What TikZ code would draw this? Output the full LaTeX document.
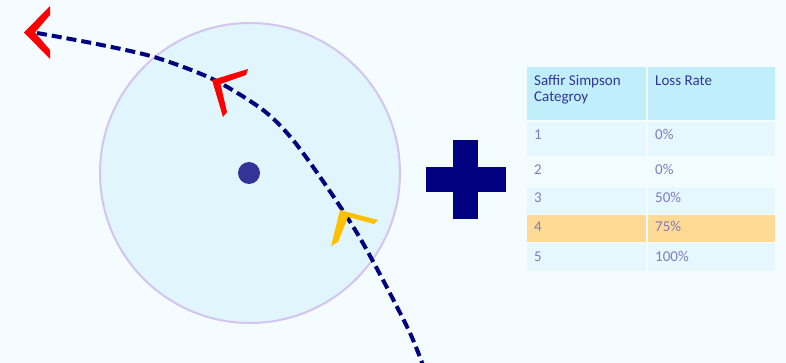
\documentclass[tikz,border=0pt]{standalone}
\usepackage{fontspec}
\setmainfont{Carlito}
\definecolor{bgc}{HTML}{F4FCFF}
\definecolor{circfill}{HTML}{E1F6FC}
\definecolor{circline}{HTML}{D4C4F0}
\definecolor{dotc}{HTML}{333399}
\definecolor{navyc}{HTML}{000080}
\definecolor{redc}{HTML}{FF0000}
\definecolor{yelc}{HTML}{FFC000}
\definecolor{hdrc}{HTML}{C1EEFB}
\definecolor{rowa}{HTML}{E6F8FD}
\definecolor{rowb}{HTML}{F2FCFF}
\definecolor{rowo}{HTML}{FFDA94}
\definecolor{hdrtxt}{HTML}{333399}
\definecolor{bodytxt}{HTML}{7C7CC0}
\begin{document}
\begin{tikzpicture}[x=1pt,y=-1pt,
  hdrtext/.style={anchor=base west,inner sep=0pt,font=\fontsize{15}{17}\selectfont,text=hdrtxt},
  celltext/.style={anchor=base west,inner sep=0pt,font=\fontsize{15}{17}\selectfont,text=bodytxt},
  track/.style={navyc,line width=4pt,dash pattern=on 10pt off 5pt}]
\fill[bgc] (0,0) rectangle (786,363);
\useasboundingbox (0,0) rectangle (786,363);
% storm circle
\node[circle,draw=circline,line width=2pt,fill=circfill,minimum size=300pt,inner sep=0pt] (storm) at (250,173) {};
\node[circle,fill=dotc,minimum size=22pt,inner sep=0pt] (eye) at (249,173) {};
% track
\draw[track] plot[smooth,tension=0.5] coordinates {(37,33) (96.7,44) (155,57.3) (213,79.3) (263,110) (293,140) (327,187) (357,233) (383,280) (410,333) (424,368)};
% wind marks
\fill[redc] (24,32.5) -- (50,6) -- (50,15) -- (35,32.5) -- (50,50) -- (50,59) -- cycle;
\fill[redc] (212,80) -- (248,69) -- (246,75) -- (220.5,84) -- (227,112) -- (223,117) -- cycle;
\fill[yelc] (340,210) -- (378,220) -- (374,224) -- (348,217) -- (338,242) -- (331,246) -- cycle;
% plus
\fill[navyc] (453,140) rectangle (478,219);
\fill[navyc] (426,167) rectangle (506,192);
% table backgrounds
\fill[hdrc] (527,67) rectangle (646,120);
\fill[hdrc] (648,67) rectangle (775,120);
\fill[rowa] (527,122) rectangle (646,156);
\fill[rowa] (648,122) rectangle (775,156);
\fill[rowb] (527,157) rectangle (646,186);
\fill[rowb] (648,157) rectangle (775,186);
\fill[rowa] (527,187) rectangle (646,214);
\fill[rowa] (648,187) rectangle (775,214);
\fill[rowo] (527,215) rectangle (646,242);
\fill[rowo] (648,215) rectangle (775,242);
\fill[rowa] (527,243) rectangle (646,271);
\fill[rowa] (648,243) rectangle (775,271);
% table text
\node[hdrtext] (h1a) at (534,86) {Saffir Simpson};
\node[hdrtext] (h1b) at (534,102) {Categroy};
\node[hdrtext] (h2) at (655,86) {Loss Rate};
\node[celltext] (c1) at (534,140) {1};
\node[celltext] (r1) at (655,140) {0\%};
\node[celltext] (c2) at (534,175) {2};
\node[celltext] (r2) at (655,175) {0\%};
\node[celltext] (c3) at (534,203) {3};
\node[celltext] (r3) at (655,203) {50\%};
\node[celltext] (c4) at (534,232) {4};
\node[celltext] (r4) at (655,232) {75\%};
\node[celltext] (c5) at (534,261) {5};
\node[celltext] (r5) at (655,261) {100\%};
\end{tikzpicture}
\end{document}
